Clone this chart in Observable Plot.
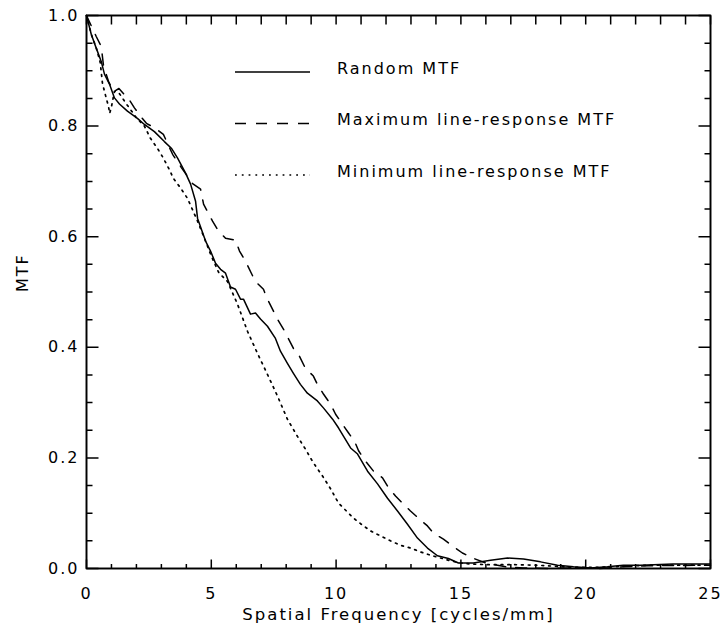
<!DOCTYPE html>
<html>
<head>
<meta charset="utf-8">
<script src="https://cdn.jsdelivr.net/npm/d3@7"></script>
<script src="https://cdn.jsdelivr.net/npm/@observablehq/plot@0.6"></script>
<style>
  html, body { margin: 0; padding: 0; background: #fff; }
  text { letter-spacing: 2px; }
</style>
</head>
<body>
<div id="chart"></div>
<script>
// ---- Data ----
const seriesNames = ["Random MTF", "Maximum line-response MTF", "Minimum line-response MTF"];

const freqRandom = [0, 0.19, 0.39, 0.59, 0.72, 0.92, 1.12, 1.32, 1.64, 2.04, 2.32, 2.72, 3.12, 3.40, 3.65, 3.97, 4.17, 4.37, 4.45, 4.77, 4.97, 5.17, 5.37, 5.57, 5.69, 5.77, 5.97, 6.17, 6.29, 6.57, 6.77, 6.97, 7.25, 7.57, 7.77, 8.05, 8.29, 8.57, 8.85, 9.25, 9.50, 9.86, 10.10, 10.30, 10.58, 10.86, 11.26, 11.66, 12.06, 12.46, 12.86, 13.26, 13.66, 14.06, 14.5, 14.9, 15.5, 16.19, 16.87, 17.51, 18.19, 18.87, 19.51, 20.19, 20.87, 21.51, 22.2, 23.5, 25];
const mtfRandom = [1.0, 0.966, 0.941, 0.917, 0.894, 0.876, 0.851, 0.840, 0.827, 0.814, 0.803, 0.790, 0.772, 0.760, 0.742, 0.715, 0.695, 0.664, 0.633, 0.592, 0.574, 0.552, 0.541, 0.534, 0.519, 0.509, 0.505, 0.487, 0.487, 0.460, 0.462, 0.451, 0.438, 0.416, 0.393, 0.371, 0.353, 0.333, 0.317, 0.303, 0.290, 0.270, 0.254, 0.239, 0.218, 0.207, 0.176, 0.153, 0.127, 0.104, 0.080, 0.055, 0.037, 0.023, 0.018, 0.010, 0.010, 0.015, 0.019, 0.017, 0.012, 0.006, 0.003, 0.001, 0.003, 0.006, 0.006, 0.008, 0.008];

const freqMax = [0, 0.39, 0.59, 0.68, 0.88, 1.08, 1.3, 1.5, 1.68, 1.92, 2.16, 2.4, 2.76, 3.08, 3.45, 3.8, 4.25, 4.57, 4.69, 5.05, 5.25, 5.57, 5.97, 6.13, 6.37, 6.57, 6.77, 7.09, 7.25, 7.45, 7.65, 7.89, 8.29, 8.53, 8.77, 9.09, 9.25, 9.50, 9.78, 9.98, 10.30, 10.50, 10.74, 10.90, 11.18, 11.50, 11.86, 12.06, 12.38, 12.66, 12.98, 13.30, 13.66, 13.90, 14.30, 14.66, 15.06, 15.46, 16.0, 16.8, 17.5, 18.5, 19.5, 20.5, 21.5, 22.5, 25];
const mtfMax = [1.0, 0.962, 0.944, 0.910, 0.881, 0.862, 0.868, 0.858, 0.850, 0.833, 0.818, 0.805, 0.796, 0.785, 0.749, 0.725, 0.696, 0.686, 0.659, 0.628, 0.613, 0.597, 0.594, 0.574, 0.556, 0.537, 0.519, 0.505, 0.487, 0.469, 0.451, 0.433, 0.398, 0.384, 0.362, 0.348, 0.333, 0.315, 0.297, 0.279, 0.258, 0.245, 0.230, 0.213, 0.194, 0.176, 0.164, 0.149, 0.131, 0.118, 0.104, 0.091, 0.077, 0.064, 0.053, 0.041, 0.028, 0.019, 0.010, 0.003, 0.001, 0.0, 0.001, 0.0, 0.003, 0.005, 0.006];

const freqMin = [0, 0.2, 0.4, 0.55, 0.64, 0.72, 0.8, 0.88, 0.93, 1.0, 1.12, 1.3, 1.6, 2.0, 2.32, 2.56, 2.84, 3.08, 3.29, 3.49, 3.77, 4.05, 4.45, 4.77, 5.0, 5.3, 5.65, 6.05, 6.45, 6.85, 7.25, 7.65, 8.05, 8.45, 8.77, 9.09, 9.46, 9.78, 10.10, 10.30, 10.70, 10.98, 11.38, 11.78, 12.18, 12.58, 12.98, 13.38, 13.78, 14.18, 14.58, 14.98, 15.38, 16.0, 17.0, 18.0, 18.8, 19.5, 20.5, 21.5, 22.5, 25];
const mtfMin = [1.0, 0.965, 0.940, 0.915, 0.877, 0.863, 0.849, 0.836, 0.823, 0.835, 0.863, 0.860, 0.840, 0.815, 0.800, 0.778, 0.760, 0.742, 0.724, 0.705, 0.688, 0.669, 0.628, 0.592, 0.565, 0.535, 0.519, 0.478, 0.429, 0.389, 0.351, 0.312, 0.270, 0.239, 0.216, 0.191, 0.167, 0.144, 0.118, 0.109, 0.091, 0.081, 0.068, 0.059, 0.050, 0.042, 0.037, 0.030, 0.024, 0.019, 0.014, 0.010, 0.008, 0.007, 0.007, 0.006, 0.004, 0.002, 0.002, 0.004, 0.006, 0.006];

const xMajorTicks = [0, 5, 10, 15, 20, 25];
const xMinorTicks = d3.range(0, 26, 1);
const yMajorTicks = [0, 0.2, 0.4, 0.6, 0.8, 1.0];
const yMinorTicks = d3.range(0, 21).map(i => i / 20);
const xTitle = "Spatial Frequency [cycles/mm]";
const yTitle = "MTF";

// ---- Build tables ----
const zip = (xs, ys) => xs.map((f, i) => ({f, v: ys[i]}));
const dataRandom = zip(freqRandom, mtfRandom);
const dataMax = zip(freqMax, mtfMax);
const dataMin = zip(freqMin, mtfMin);

const lineStyles = [
  {dash: null, width: 1.5},
  {dash: "11,10", width: 1.5},
  {dash: "1.8,5", width: 1.7}
];
const font = "DejaVu Sans, sans-serif";

// layout
const W = 722, H = 629, mL = 86, mR = 12, mT = 15, mB = 61;
const xDomain = [0, 25], yDomain = [0, 1];
const pxX = px => px * (xDomain[1] - xDomain[0]) / (W - mL - mR);
const pxY = px => px * (yDomain[1] - yDomain[0]) / (H - mT - mB);
const isMajorX = v => xMajorTicks.some(m => Math.abs(m - v) < 1e-9);
const isMajorY = v => yMajorTicks.some(m => Math.abs(m - v) < 1e-9);

// One comb path per side: runs along the edge with an inward spike at each tick
const comb = [];
xMinorTicks.forEach(v => {
  const len = pxY(isMajorX(v) ? 9 : 4.5);
  comb.push({side: "b", x: v, y: yDomain[0]}, {side: "b", x: v, y: yDomain[0] + len}, {side: "b", x: v, y: yDomain[0]});
  const lt = pxY(9);
  comb.push({side: "t", x: v, y: yDomain[1]}, {side: "t", x: v, y: yDomain[1] - lt}, {side: "t", x: v, y: yDomain[1]});
});
yMinorTicks.forEach(v => {
  const len = pxX(isMajorY(v) ? 12 : 6);
  comb.push({side: "l", x: xDomain[0], y: v}, {side: "l", x: xDomain[0] + len, y: v}, {side: "l", x: xDomain[0], y: v});
  comb.push({side: "r", x: xDomain[1], y: v}, {side: "r", x: xDomain[1] - len, y: v}, {side: "r", x: xDomain[1], y: v});
});

const chart = Plot.plot({
  width: W,
  height: H,
  marginLeft: mL,
  marginRight: mR,
  marginTop: mT,
  marginBottom: mB,
  x: {domain: xDomain},
  y: {domain: yDomain},
  style: {fontFamily: font, fontSize: "16px", color: "black", background: "white", overflow: "visible"},
  marks: [
    // tick labels
    Plot.axisX(xMajorTicks, {anchor: "bottom", tickSize: 0, tickPadding: 19, tickFormat: d3.format("d"), label: null}),
    Plot.axisY(yMajorTicks, {anchor: "left", tickSize: 0, tickPadding: 7, tickFormat: d3.format(".1f"), label: null}),
    // axis titles
    Plot.text([xTitle], {frameAnchor: "bottom", dy: 51, text: d => d, fontSize: 16.5, fill: "black"}),
    Plot.text([yTitle], {frameAnchor: "left", dx: -64, rotate: -90, text: d => d, fontSize: 16, fill: "black"}),
    // data
    Plot.line(dataRandom, {x: "f", y: "v", stroke: "black", strokeWidth: lineStyles[0].width}),
    Plot.line(dataMax, {x: "f", y: "v", stroke: "black", strokeWidth: lineStyles[1].width, strokeDasharray: lineStyles[1].dash}),
    Plot.line(dataMin, {x: "f", y: "v", stroke: "black", strokeWidth: lineStyles[2].width, strokeDasharray: lineStyles[2].dash}),
    // inward ticks as comb paths along each side
    Plot.line(comb, {x: "x", y: "y", z: "side", stroke: "black", strokeWidth: 1.5, strokeLinejoin: "miter", strokeLinecap: "butt"}),
    Plot.frame({stroke: "black", strokeWidth: 1.6})
  ]
});

// ---- Legend (inside the plot, upper middle) ----
const svg = d3.select(chart);
const leg = svg.append("g").attr("font-family", font).attr("font-size", 16).attr("text-anchor", "start");
seriesNames.forEach((name, i) => {
  const y = 72 + i * 51.5;
  leg.append("line")
    .attr("x1", 235).attr("x2", 310).attr("y1", y).attr("y2", y)
    .attr("stroke", "black").attr("stroke-width", lineStyles[i].width)
    .attr("stroke-dasharray", lineStyles[i].dash);
  leg.append("text")
    .attr("x", 337).attr("y", y + 1.5)
    .attr("fill", "black")
    .text(name);
});

document.getElementById("chart").appendChild(chart);
</script>
</body>
</html>
